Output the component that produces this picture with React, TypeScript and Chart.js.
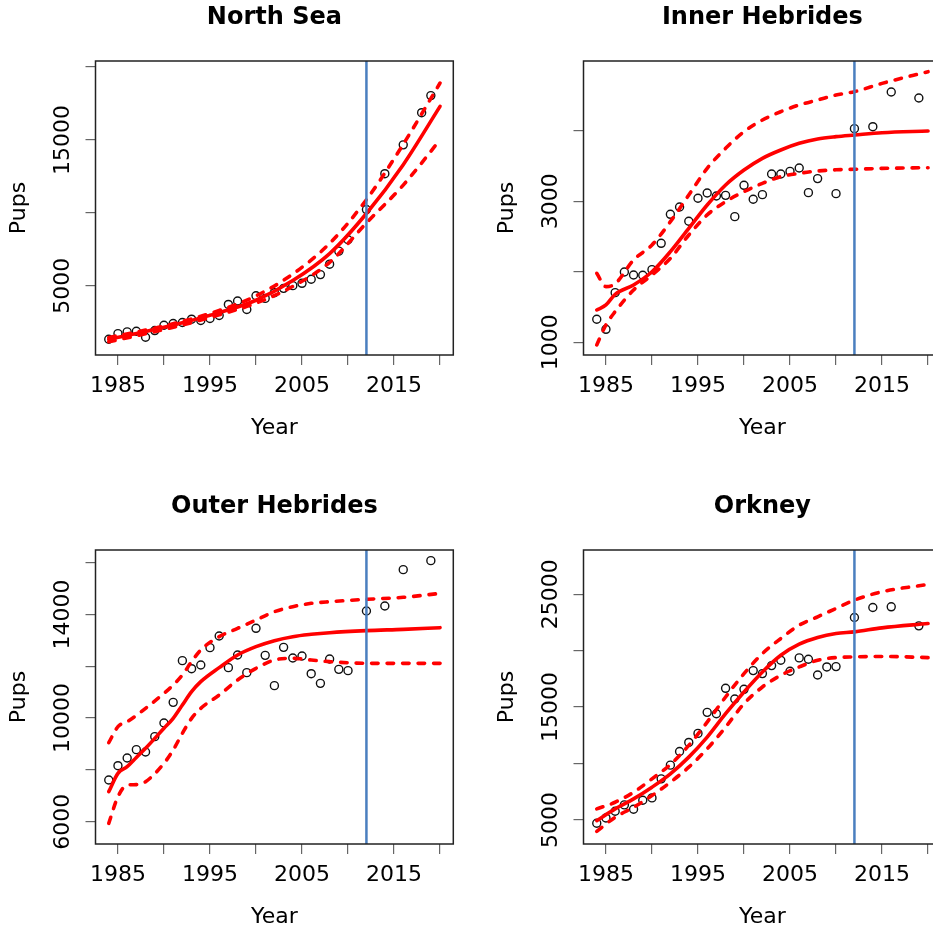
import React, { useEffect, useRef } from 'react';
import { Chart, registerables } from 'chart.js';

Chart.register(...registerables);

const FONT = 'DejaVu Sans';

// shared x axis
const xLimits = [1982.56, 2021.44];
const xTickValues = [1985, 1990, 1995, 2000, 2005, 2010, 2015, 2020];
const xTickLabels = ['1985', '', '1995', '', '2005', '', '2015', ''];
const changeYear = [2012];

// North Sea
const nsYears = [1984, 1985, 1986, 1987, 1988, 1989, 1990, 1991, 1992, 1993, 1994, 1995, 1996, 1997, 1998, 1999, 2000, 2001, 2002, 2003, 2004, 2005, 2006, 2007, 2008, 2009, 2010, 2012, 2014, 2016, 2018, 2019];
const nsPups = [1322, 1713, 1828, 1874, 1460, 1920, 2288, 2403, 2472, 2701, 2610, 2747, 2954, 3713, 3943, 3368, 4311, 4127, 4518, 4817, 5000, 5162, 5438, 5760, 6473, 7369, 8151, 10221, 12681, 14659, 16866, 18039];
const nsCurveYears = [1984, 1988, 1992, 1996, 2000, 2004, 2008, 2012, 2016, 2020];
const nsFit = [1320, 1850, 2450, 3150, 4000, 5350, 7200, 9950, 13300, 17300];
const nsUpper = [1450, 1950, 2550, 3300, 4300, 5800, 7900, 10900, 14700, 18900];
const nsLower = [1150, 1700, 2300, 3000, 3800, 4950, 6600, 9300, 11900, 15000];
const nsYLimits = [244, 20411];
const nsYTickValues = [5000, 10000, 15000, 20000];
const nsYTickLabels = ['5000', '', '15000', ''];

// Inner Hebrides
const ihYears = [1984, 1985, 1986, 1987, 1988, 1989, 1990, 1991, 1992, 1993, 1994, 1995, 1996, 1997, 1998, 1999, 2000, 2001, 2002, 2003, 2004, 2005, 2006, 2007, 2008, 2010, 2012, 2014, 2016, 2019];
const ihPups = [1326, 1184, 1704, 1997, 1954, 1950, 2030, 2403, 2814, 2918, 2715, 3041, 3116, 3074, 3083, 2781, 3225, 3027, 3093, 3386, 3386, 3423, 3471, 3121, 3320, 3107, 4028, 4056, 4548, 4463];
const ihCurveYears = [1984, 1985, 1986, 1988, 1990, 1992, 1994, 1996, 1998, 2000, 2002, 2004, 2006, 2008, 2010, 2012, 2015, 2020];
const ihFit = [1458, 1529, 1680, 1813, 2000, 2285, 2616, 2946, 3230, 3442, 3608, 3726, 3820, 3882, 3915, 3938, 3971, 3995];
const ihUpper = [1978, 1789, 1830, 2167, 2379, 2710, 3088, 3466, 3749, 3986, 4151, 4269, 4364, 4434, 4505, 4552, 4670, 4836];
const ihLower = [962, 1246, 1435, 1742, 1954, 2190, 2521, 2805, 2994, 3135, 3253, 3348, 3395, 3428, 3445, 3452, 3465, 3475];
const ihYLimits = [820, 4987];
const ihYTickValues = [1000, 2000, 3000, 4000];
const ihYTickLabels = ['1000', '', '3000', ''];

// Outer Hebrides
const ohYears = [1984, 1985, 1986, 1987, 1988, 1989, 1990, 1991, 1992, 1993, 1994, 1995, 1996, 1997, 1998, 1999, 2000, 2001, 2002, 2003, 2004, 2005, 2006, 2007, 2008, 2009, 2010, 2012, 2014, 2016, 2019];
const ohPups = [7609, 8162, 8458, 8780, 8690, 9282, 9810, 10607, 12216, 11907, 12049, 12718, 13169, 11946, 12435, 11753, 13465, 12422, 11251, 12731, 12319, 12396, 11714, 11341, 12281, 11882, 11830, 14134, 14327, 15730, 16077];
const ohCurveYears = [1984, 1985, 1986, 1987, 1988, 1990, 1991, 1992, 1993, 1994, 1996, 1998, 2000, 2002, 2004, 2006, 2008, 2012, 2016, 2020];
const ohFit = [7158, 7866, 8124, 8480, 8831, 9604, 9990, 10504, 11019, 11405, 11946, 12435, 12757, 12989, 13143, 13233, 13297, 13375, 13426, 13490];
const ohUpper = [9050, 9668, 9861, 10100, 10376, 10955, 11277, 11663, 12178, 12628, 13143, 13465, 13786, 14108, 14301, 14430, 14494, 14584, 14662, 14816];
const ohLower = [5936, 6965, 7416, 7430, 7544, 8252, 8767, 9411, 9990, 10376, 10891, 11470, 11920, 12242, 12306, 12242, 12178, 12113, 12113, 12113];
const ohYLimits = [5138, 16489];
const ohYTickValues = [6000, 8000, 10000, 12000, 14000, 16000];
const ohYTickLabels = ['6000', '', '10000', '', '14000', ''];

// Orkney
const orYears = [1984, 1985, 1986, 1987, 1988, 1989, 1990, 1991, 1992, 1993, 1994, 1995, 1996, 1997, 1998, 1999, 2000, 2001, 2002, 2003, 2004, 2005, 2006, 2007, 2008, 2009, 2010, 2012, 2014, 2016, 2019];
const orPups = [4704, 5178, 5769, 6332, 5947, 6746, 6953, 8640, 9853, 11066, 11865, 12664, 14528, 14410, 16659, 15712, 16570, 18227, 17960, 18671, 19144, 18168, 19351, 19233, 17842, 18552, 18582, 22932, 23819, 23878, 22192];
const orCurveYears = [1984, 1986, 1988, 1990, 1992, 1994, 1996, 1998, 2000, 2002, 2004, 2006, 2008, 2010, 2012, 2015, 2020];
const orFit = [4941, 5977, 6864, 7900, 9083, 10563, 12338, 14410, 16333, 18108, 19588, 20564, 21156, 21511, 21659, 22014, 22399];
const orUpper = [5977, 6568, 7456, 8640, 9912, 11599, 13670, 15889, 17960, 19736, 21068, 22251, 22991, 23731, 24470, 25210, 25861];
const orLower = [3994, 5237, 6124, 7160, 8344, 9675, 11303, 13226, 15297, 16777, 17812, 18552, 19144, 19381, 19440, 19480, 19381];
const orYLimits = [2870, 28909];
const orYTickValues = [5000, 10000, 15000, 20000, 25000];
const orYTickLabels = ['5000', '', '15000', '', '25000'];

const CANVAS_W = 466;
const CANVAS_H = 470;

const boxPlugin = {
  id: 'plotBox',
  afterDraw(chart: any) {
    const { ctx, chartArea: a } = chart;
    ctx.save();
    ctx.strokeStyle = '#222';
    ctx.lineWidth = 1.5;
    ctx.strokeRect(a.left, a.top, a.right - a.left, a.bottom - a.top);
    ctx.restore();
  },
};

function widestLabel(labels: string[], size: number) {
  const c = document.createElement('canvas');
  const ctx = c.getContext('2d') as CanvasRenderingContext2D;
  ctx.font = `${size}px "${FONT}"`;
  let w = 0;
  labels.forEach((l) => {
    w = Math.max(w, ctx.measureText(l).width);
  });
  return w;
}

type PanelProps = {
  title: string;
  years: number[];
  pups: number[];
  curveYears: number[];
  fit: number[];
  upper: number[];
  lower: number[];
  yLimits: number[];
  yTickValues: number[];
  yTickLabels: string[];
  left: number;
  top: number;
};

function Panel(p: PanelProps) {
  const ref = useRef<HTMLCanvasElement | null>(null);

  useEffect(() => {
    if (!ref.current) return;
    const toXY = (xs: number[], ys: number[]) => xs.map((x, i) => ({ x, y: ys[i] }));
    const tickSize = 22;
    const widest = widestLabel(p.yTickLabels, tickSize);
    const yPad = 32.5 - 10 - widest / 2;
    const dashed = {
      borderColor: '#ff0000',
      borderWidth: 3.6,
      borderDash: [6.5, 9],
      borderCapStyle: 'round',
      pointRadius: 0,
      showLine: true,
      cubicInterpolationMode: 'monotone',
      fill: false,
      order: 2,
    };
    const tickGrid = {
      display: true,
      drawOnChartArea: false,
      drawTicks: true,
      tickLength: 10,
      color: '#666',
      lineWidth: 1.2,
    };
    const chart = new Chart(ref.current, {
      type: 'line',
      data: {
        datasets: [
          {
            label: 'pups',
            data: toXY(p.years, p.pups),
            showLine: false,
            pointRadius: 4,
            pointBorderWidth: 1.4,
            pointBorderColor: '#111',
            pointBackgroundColor: 'rgba(0,0,0,0)',
            borderColor: '#111',
            order: 3,
          },
          { label: 'upper', data: toXY(p.curveYears, p.upper), ...dashed } as any,
          { label: 'lower', data: toXY(p.curveYears, p.lower), ...dashed } as any,
          {
            label: 'fit',
            data: toXY(p.curveYears, p.fit),
            borderColor: '#ff0000',
            borderWidth: 3.6,
            borderCapStyle: 'round',
            pointRadius: 0,
            showLine: true,
            cubicInterpolationMode: 'monotone',
            fill: false,
            order: 2,
          } as any,
          {
            label: 'change',
            data: [
              { x: changeYear[0], y: p.yLimits[0] },
              { x: changeYear[0], y: p.yLimits[1] },
            ],
            borderColor: '#4a7fbf',
            borderWidth: 2.5,
            pointRadius: 0,
            showLine: true,
            fill: false,
            order: 1,
          },
        ],
      },
      options: {
        animation: false,
        responsive: false,
        devicePixelRatio: 1,
        events: [],
        layout: { padding: { left: 5.5, right: 12.7, top: 0, bottom: 25 } },
        plugins: {
          legend: { display: false },
          tooltip: { enabled: false },
          title: {
            display: true,
            text: p.title,
            fullSize: false,
            color: '#000',
            font: { family: FONT, size: 24, weight: 'bold', lineHeight: 1 },
            padding: { top: 5.5, bottom: 31.5 },
          },
        },
        scales: {
          x: {
            type: 'linear',
            min: xLimits[0],
            max: xLimits[1],
            afterBuildTicks: (s: any) => {
              s.ticks = xTickValues.map((v) => ({ value: v }));
            },
            afterFit: (s: any) => {
              s.height = 90;
            },
            border: { display: false },
            grid: tickGrid,
            ticks: {
              autoSkip: false,
              maxRotation: 0,
              minRotation: 0,
              padding: 10,
              color: '#000',
              font: { family: FONT, size: tickSize, lineHeight: 1 },
              callback: (_v: any, i: number) => xTickLabels[i] ?? '',
            },
            title: {
              display: true,
              text: 'Year',
              color: '#000',
              font: { family: FONT, size: 22, lineHeight: 1 },
              padding: { top: 0, bottom: 6 },
            },
          },
          y: {
            type: 'linear',
            min: p.yLimits[0],
            max: p.yLimits[1],
            afterBuildTicks: (s: any) => {
              s.ticks = p.yTickValues.map((v) => ({ value: v }));
            },
            afterFit: (s: any) => {
              s.width = 90;
            },
            border: { display: false },
            grid: tickGrid,
            ticks: {
              autoSkip: false,
              minRotation: 90,
              maxRotation: 90,
              crossAlign: 'center',
              padding: yPad,
              color: '#000',
              font: { family: FONT, size: tickSize, lineHeight: 1 },
              callback: (_v: any, i: number) => p.yTickLabels[i] ?? '',
            },
            title: {
              display: true,
              text: 'Pups',
              color: '#000',
              font: { family: FONT, size: 22, lineHeight: 1 },
              padding: { top: 2.7, bottom: 0 },
            },
          },
        },
      } as any,
      plugins: [boxPlugin],
    });
    return () => chart.destroy();
  }, []);

  return (
    <canvas
      ref={ref}
      width={CANVAS_W}
      height={CANVAS_H}
      style={{ position: 'absolute', left: p.left, top: p.top, width: CANVAS_W, height: CANVAS_H }}
    />
  );
}

export default function App() {
  return (
    <div
      style={{
        position: 'absolute',
        left: 0,
        top: 0,
        width: 933,
        height: 931,
        overflow: 'hidden',
        background: '#fff',
      }}
    >
      <Panel title="North Sea" years={nsYears} pups={nsPups} curveYears={nsCurveYears} fit={nsFit} upper={nsUpper} lower={nsLower} yLimits={nsYLimits} yTickValues={nsYTickValues} yTickLabels={nsYTickLabels} left={0} top={0} />
      <Panel title="Inner Hebrides" years={ihYears} pups={ihPups} curveYears={ihCurveYears} fit={ihFit} upper={ihUpper} lower={ihLower} yLimits={ihYLimits} yTickValues={ihYTickValues} yTickLabels={ihYTickLabels} left={488} top={0} />
      <Panel title="Outer Hebrides" years={ohYears} pups={ohPups} curveYears={ohCurveYears} fit={ohFit} upper={ohUpper} lower={ohLower} yLimits={ohYLimits} yTickValues={ohYTickValues} yTickLabels={ohYTickLabels} left={0} top={489} />
      <Panel title="Orkney" years={orYears} pups={orPups} curveYears={orCurveYears} fit={orFit} upper={orUpper} lower={orLower} yLimits={orYLimits} yTickValues={orYTickValues} yTickLabels={orYTickLabels} left={488} top={489} />
    </div>
  );
}
